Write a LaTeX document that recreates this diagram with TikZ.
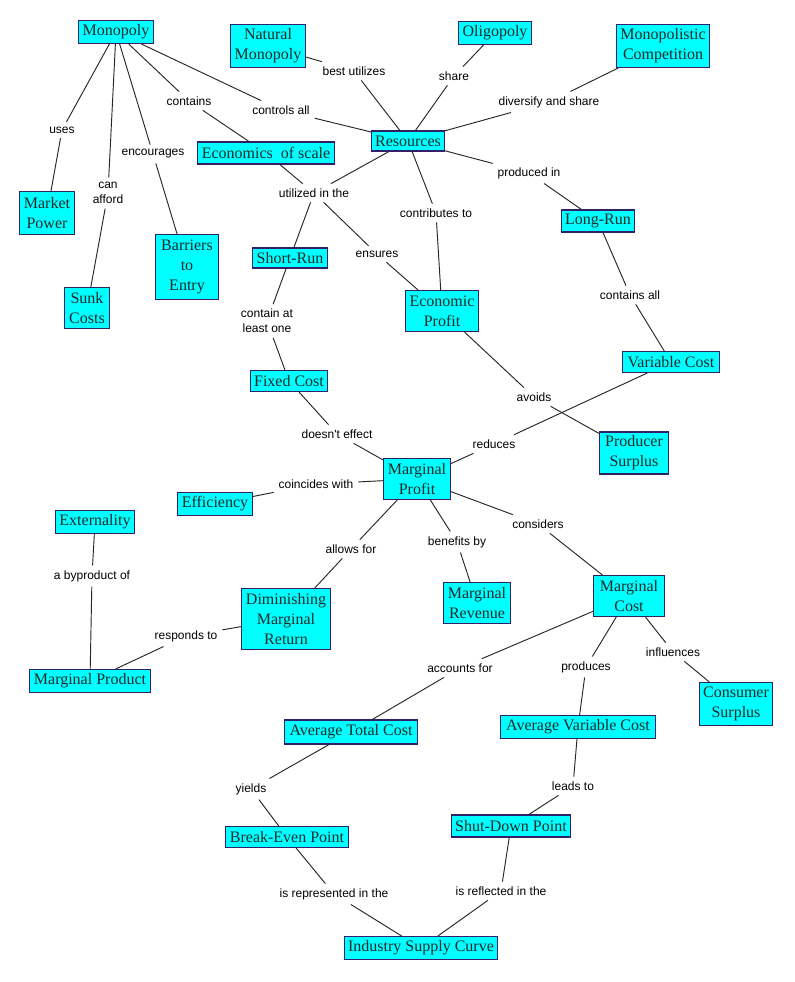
\documentclass[tikz,border=0pt]{standalone}
\usepackage{fontspec}
\setmainfont{Liberation Serif}
\newfontfamily\lblfont{Liberation Sans}
\definecolor{boxborder}{HTML}{33206A}
\definecolor{boxfill}{HTML}{00FFFF}
\definecolor{boxtext}{HTML}{1E2A2A}
\begin{document}
\begin{tikzpicture}[x=0.75pt,y=-0.75pt,
  box/.style={draw=boxborder, fill=boxfill, text=boxtext, font=\fontsize{12}{15}\selectfont, align=center, inner sep=1pt, line width=0.8pt},
  bw/.style={minimum width=#1*0.75pt},
  bh/.style={minimum height=#1*0.75pt},
  lab/.style={font=\lblfont\fontsize{9}{11.2}\selectfont, align=center, inner sep=3.5pt},
  ln/.style={draw=black!85, line width=0.7pt}]
\path[use as bounding box, fill=white] (0,0) rectangle (794,982);
% concept boxes
\node[box,bw=75,bh=23] (mono) at (116,32) {Monopoly};
\node[box,bw=75,bh=43] (natmono) at (268,46) {Natural\\Monopoly};
\node[box,bw=73,bh=23] (oligo) at (495,33) {Oligopoly};
\node[box,bw=93,bh=43] (moncomp) at (663,46) {Monopolistic\\Competition};
\node[box,bw=73,bh=20] (res) at (408,141) {Resources};
\node[box,bw=137,bh=22] (econ) at (266,153) {Economics\ \ of scale};
\node[box,bw=55,bh=43] (mpower) at (47,213) {Market\\Power};
\node[box,bw=45,bh=41] (sunk) at (87,308) {Sunk\\Costs};
\node[box,bw=63,bh=65] (barr) at (187,267) {Barriers\\to\\Entry};
\node[box,bw=75,bh=20] (short) at (290,258) {Short-Run};
\node[box,bw=73,bh=22] (long) at (598,221) {Long-Run};
\node[box,bw=73,bh=41] (eprof) at (442,311) {Economic\\Profit};
\node[box,bw=77,bh=21] (fixed) at (289,381) {Fixed Cost};
\node[box,bw=97,bh=21] (var) at (671,362) {Variable Cost};
\node[box,bw=69,bh=42] (prod) at (634,453) {Producer\\Surplus};
\node[box,bw=67,bh=41] (mprof) at (417,479) {Marginal\\Profit};
\node[box,bw=75,bh=23] (eff) at (215,504) {Efficiency};
\node[box,bw=79,bh=23] (ext) at (95,522) {Externality};
\node[box,bw=89,bh=61] (dmr) at (286,619) {Diminishing\\Marginal\\Return};
\node[box,bw=67,bh=41] (mrev) at (477,603) {Marginal\\Revenue};
\node[box,bw=71,bh=41] (mcost) at (629,596) {Marginal\\Cost};
\node[box,bw=121,bh=23] (mprod) at (90,681) {Marginal Product};
\node[box,bw=73,bh=43] (cons) at (736,704) {Consumer\\Surplus};
\node[box,bw=133,bh=24] (atc) at (351,732) {Average Total Cost};
\node[box,bw=155,bh=23] (avc) at (578,727) {Average Variable Cost};
\node[box,bw=123,bh=21] (be) at (287,837) {Break-Even Point};
\node[box,bw=119,bh=22] (sd) at (511,826) {Shut-Down Point};
\node[box,bw=153,bh=23] (isc) at (421,948) {Industry Supply Curve};
% linking phrases
\node[lab] (uses) at (62,130) {uses};
\node[lab] (canafford) at (108,193) {can\\afford};
\node[lab] (encour) at (153,154) {encourages};
\node[lab] (contains) at (189,101) {contains};
\node[lab] (controls) at (281,110) {controls all};
\node[lab] (bestutil) at (354,71) {best utilizes};
\node[lab] (share) at (454,76) {share};
\node[lab] (divshare) at (549,102) {diversify and share};
\node[lab] (prodin) at (529,173) {produced in};
\node[lab] (contrib) at (436,213) {contributes to};
\node[lab] (utilin) at (314,193) {utilized in the};
\node[lab] (ensures) at (377,254) {ensures};
\node[lab] (contain1) at (267,321) {contain at\\least one};
\node[lab] (containsall) at (630,295) {contains all};
\node[lab] (doesnt) at (337,434) {doesn't effect};
\node[lab] (avoids) at (534,397) {avoids};
\node[lab] (reduces) at (494,444) {reduces};
\node[lab] (coinc) at (316,484) {coincides with};
\node[lab] (allows) at (351,549) {allows for};
\node[lab] (benef) at (457,542) {benefits by};
\node[lab] (consid) at (538,524) {considers};
\node[lab] (byprod) at (92,576) {a byproduct of};
\node[lab] (respond) at (186,636) {responds to};
\node[lab] (accounts) at (460,668) {accounts for};
\node[lab] (produces) at (586,667) {produces};
\node[lab] (influ) at (673,652) {influences};
\node[lab] (yields) at (251,789) {yields};
\node[lab] (leads) at (573,786) {leads to};
\node[lab] (isrep) at (334,894) {is represented in the};
\node[lab] (isref) at (501,891) {is reflected in the};
% connectors
\draw[ln] (mono) -- (uses) (uses) -- (mpower);
\draw[ln] (mono) -- (canafford) (canafford) -- (sunk);
\draw[ln] (mono) -- (encour) (encour) -- (barr);
\draw[ln] (mono) -- (contains) (contains) -- (econ);
\draw[ln] (mono) -- (controls) (controls) -- (res);
\draw[ln] (natmono) -- (bestutil) (bestutil) -- (res);
\draw[ln] (oligo) -- (share) (share) -- (res);
\draw[ln] (moncomp) -- (divshare) (divshare) -- (res);
\draw[ln] (res) -- (prodin) (prodin) -- (long);
\draw[ln] (res) -- (contrib) (contrib) -- (eprof);
\draw[ln] (res) -- (utilin) (econ) -- (utilin);
\draw[ln] (utilin) -- (short);
\draw[ln] (utilin) -- (ensures) (ensures) -- (eprof);
\draw[ln] (short) -- (contain1) (contain1) -- (fixed);
\draw[ln] (long) -- (containsall) (containsall) -- (var);
\draw[ln] (fixed) -- (doesnt) (doesnt) -- (mprof);
\draw[ln] (eprof) -- (avoids) (avoids) -- (prod);
\draw[ln] (var) -- (reduces) (reduces) -- (mprof);
\draw[ln] (mprof) -- (coinc) (coinc) -- (eff);
\draw[ln] (mprof) -- (allows) (allows) -- (dmr);
\draw[ln] (mprof) -- (benef) (benef) -- (mrev);
\draw[ln] (mprof) -- (consid) (consid) -- (mcost);
\draw[ln] (ext) -- (byprod) (byprod) -- (mprod);
\draw[ln] (dmr) -- (respond) (respond) -- (mprod);
\draw[ln] (mcost) -- (accounts) (accounts) -- (atc);
\draw[ln] (mcost) -- (produces) (produces) -- (avc);
\draw[ln] (mcost) -- (influ) (influ) -- (cons);
\draw[ln] (atc) -- (yields) (yields) -- (be);
\draw[ln] (avc) -- (leads) (leads) -- (sd);
\draw[ln] (be) -- (isrep) (isrep) -- (isc);
\draw[ln] (sd) -- (isref) (isref) -- (isc);
\end{tikzpicture}
\end{document}
